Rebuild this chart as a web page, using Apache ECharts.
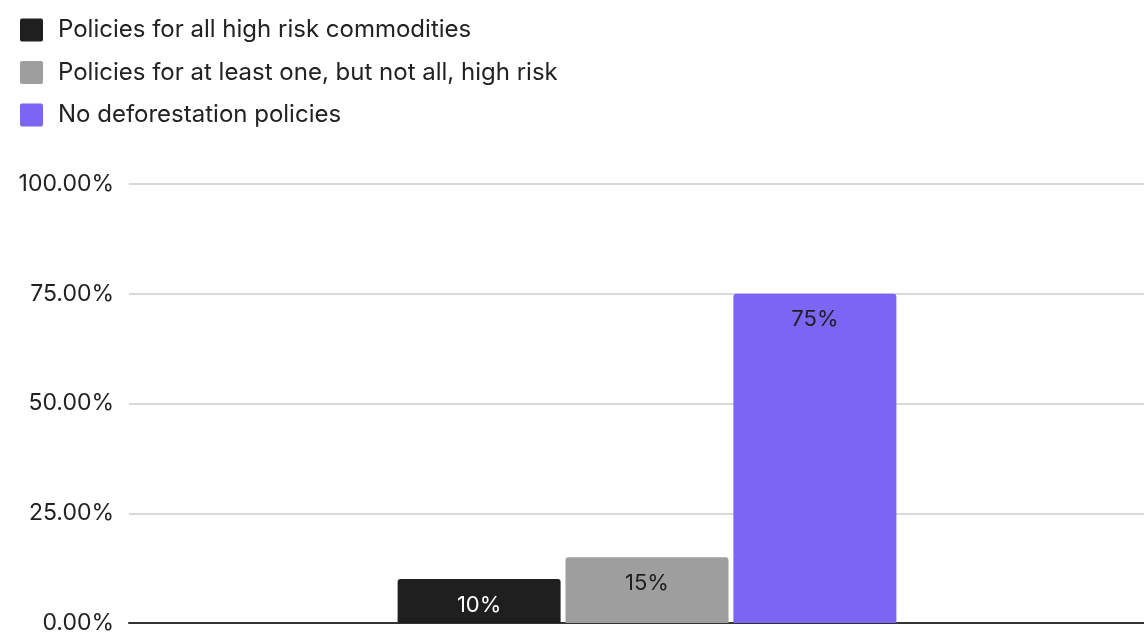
<!DOCTYPE html>
<html><head><meta charset="utf-8">
<script src="https://cdn.jsdelivr.net/npm/echarts@6/dist/echarts.min.js"></script>
<style>html,body{margin:0;padding:0;background:#fff}#c{width:1144px;height:634px}</style>
</head><body><div id="c"></div>
<script>
const categories = [''];
const seriesNames = ['Policies for all high risk commodities', 'Policies for at least one, but not all, high risk', 'No deforestation policies'];
const seriesValues = [[0.10], [0.15], [0.75]];
const colors = ['#1f1f1f', '#9e9e9e', '#7b65f2'];
const labelColors = ['#ffffff', '#1f1f1f', '#1f1f1f'];
const font = 'Inter, "Noto Sans", sans-serif';
const chart = echarts.init(document.getElementById('c'));
const sq = 'path://M2,0 L21,0 Q23,0 23,2 L23,21 Q23,23 21,23 L2,23 Q0,23 0,21 L0,2 Q0,0 2,0 Z';
chart.setOption({
  animation: false,
  textStyle: { fontFamily: font },
  legend: {
    orient: 'vertical', left: 15, top: 13, itemWidth: 23, itemHeight: 23, itemGap: 18.5,
    icon: sq,
    textStyle: { fontSize: 24, color: '#222', fontFamily: font, padding: [0, 0, 0, 10] },
    data: seriesNames
  },
  grid: { left: 129, width: 1036, top: 184, bottom: 11, containLabel: false, outerBoundsMode: 'none' },
  xAxis: {
    type: 'category', data: categories,
    axisLine: { lineStyle: { color: '#333', width: 2 } },
    axisTick: { show: false }, axisLabel: { show: false }
  },
  yAxis: {
    type: 'value', min: 0, max: 1, interval: 0.25,
    axisLine: { show: false }, axisTick: { show: false },
    splitLine: { lineStyle: { color: '#cccccc', width: 1.5 } },
    axisLabel: { formatter: v => (v * 100).toFixed(2) + '%', fontSize: 23, color: '#222', margin: 15, fontFamily: font }
  },
  series: seriesNames.map((n, i) => ({
    name: n, type: 'bar', data: seriesValues[i],
    barWidth: 163, barGap: '3%',
    itemStyle: { color: colors[i], borderRadius: [3, 3, 0, 0] },
    label: { show: true, position: 'insideTop', distance: 15, fontSize: 22, color: labelColors[i], fontFamily: font,
      formatter: p => Math.round(p.value * 100) + '%' }
  }))
});
</script></body></html>
